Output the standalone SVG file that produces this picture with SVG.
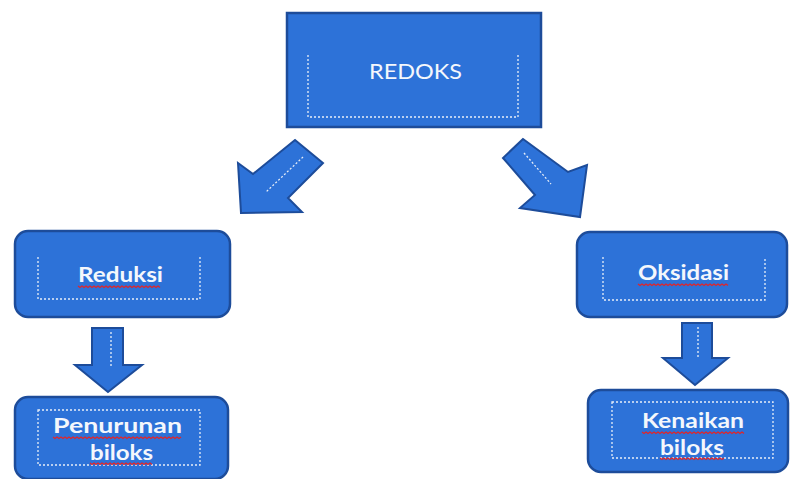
<svg xmlns="http://www.w3.org/2000/svg" width="790" height="479" viewBox="0 0 790 479">
<defs>
<style>
.box{fill:#2d72d8;stroke:#1d4c9a;stroke-width:2.5}
.arrow{fill:#2d72d8;stroke:#1d4c9a;stroke-width:2;stroke-linejoin:miter}
.dot{fill:none;stroke:#e8eef8;stroke-width:1.3;stroke-dasharray:2 2}
.lbl{font-family:Lato,"Open Sans","Liberation Sans",sans-serif;fill:#f4f7fc;text-anchor:start}
.b{font-weight:700}
.sq{fill:none;stroke:#e0262a;stroke-width:1.2}
</style>
</defs>
<rect width="790" height="479" fill="#ffffff"/>
<g id="connectors">
<polygon class="arrow" points="295,140 323,163 288,198 302,212 241,213 238,163 253,174"/>
<line class="dot" x1="303" y1="157" x2="266" y2="192"/>
<polygon class="arrow" points="523,139 503,158 535,195 520,208 580,217 587,165 568,172"/>
<line class="dot" x1="524" y1="153" x2="551" y2="184"/>
<polygon class="arrow" points="92,328 123,328 123,365 142,365 108,392 75,365 92,365"/>
<line class="dot" x1="111" y1="332" x2="111" y2="366"/>
<polygon class="arrow" points="682,323 712,323 712,358 728,358 695,385 663,358 682,358"/>
<line class="dot" x1="698" y1="327" x2="698" y2="358"/>
</g>
<g id="redoks">
<rect class="box" x="287" y="13" width="254" height="114"/>
<path class="dot" d="M308,55 V117 H518 V55"/>
<text class="lbl" x="369" y="79" font-size="22" textLength="93" lengthAdjust="spacingAndGlyphs">REDOKS</text>
</g>
<g id="reduksi">
<rect class="box" x="15" y="231" width="215" height="86" rx="13"/>
<path class="dot" d="M38,257 V299 H200 V257"/>
<text class="lbl b" x="78" y="282" font-size="20" textLength="85" lengthAdjust="spacingAndGlyphs">Reduksi</text>
<path class="sq" d="M78,286 l2,1.5 l2,-1.5 l2,1.5 l2,-1.5 l2,1.5 l2,-1.5 l2,1.5 l2,-1.5 l2,1.5 l2,-1.5 l2,1.5 l2,-1.5 l2,1.5 l2,-1.5 l2,1.5 l2,-1.5 l2,1.5 l2,-1.5 l2,1.5 l2,-1.5 l2,1.5 l2,-1.5 l2,1.5 l2,-1.5 l2,1.5 l2,-1.5 l2,1.5 l2,-1.5 l2,1.5 l2,-1.5 l2,1.5 l2,-1.5 l2,1.5 l2,-1.5 l2,1.5 l2,-1.5 l2,1.5 l2,-1.5 l2,1.5 l2,-1.5 l2,1.5"/>
</g>
<g id="penurunan">
<rect class="box" x="15" y="397" width="213" height="82" rx="13"/>
<rect class="dot" x="38" y="410" width="162" height="55"/>
<text class="lbl b" x="53" y="433" font-size="20" textLength="129" lengthAdjust="spacingAndGlyphs">Penurunan</text>
<text class="lbl b" x="90" y="460" font-size="20" textLength="63" lengthAdjust="spacingAndGlyphs">biloks</text>
<path class="sq" d="M53,437 l2,1.5 l2,-1.5 l2,1.5 l2,-1.5 l2,1.5 l2,-1.5 l2,1.5 l2,-1.5 l2,1.5 l2,-1.5 l2,1.5 l2,-1.5 l2,1.5 l2,-1.5 l2,1.5 l2,-1.5 l2,1.5 l2,-1.5 l2,1.5 l2,-1.5 l2,1.5 l2,-1.5 l2,1.5 l2,-1.5 l2,1.5 l2,-1.5 l2,1.5 l2,-1.5 l2,1.5 l2,-1.5 l2,1.5 l2,-1.5 l2,1.5 l2,-1.5 l2,1.5 l2,-1.5 l2,1.5 l2,-1.5 l2,1.5 l2,-1.5 l2,1.5 l2,-1.5 l2,1.5 l2,-1.5 l2,1.5 l2,-1.5 l2,1.5 l2,-1.5 l2,1.5 l2,-1.5 l2,1.5 l2,-1.5 l2,1.5 l2,-1.5 l2,1.5 l2,-1.5 l2,1.5 l2,-1.5 l2,1.5 l2,-1.5 l2,1.5 l2,-1.5 l2,1.5 l2,-1.5"/>
<path class="sq" d="M90,463 l2,1.5 l2,-1.5 l2,1.5 l2,-1.5 l2,1.5 l2,-1.5 l2,1.5 l2,-1.5 l2,1.5 l2,-1.5 l2,1.5 l2,-1.5 l2,1.5 l2,-1.5 l2,1.5 l2,-1.5 l2,1.5 l2,-1.5 l2,1.5 l2,-1.5 l2,1.5 l2,-1.5 l2,1.5 l2,-1.5 l2,1.5 l2,-1.5 l2,1.5 l2,-1.5 l2,1.5 l2,-1.5 l2,1.5"/>
</g>
<g id="oksidasi">
<rect class="box" x="577" y="232" width="210" height="85" rx="13"/>
<path class="dot" d="M603,257 V300 H765 V257"/>
<text class="lbl b" x="638" y="280" font-size="20" textLength="91" lengthAdjust="spacingAndGlyphs">Oksidasi</text>
<path class="sq" d="M638,284 l2,1.5 l2,-1.5 l2,1.5 l2,-1.5 l2,1.5 l2,-1.5 l2,1.5 l2,-1.5 l2,1.5 l2,-1.5 l2,1.5 l2,-1.5 l2,1.5 l2,-1.5 l2,1.5 l2,-1.5 l2,1.5 l2,-1.5 l2,1.5 l2,-1.5 l2,1.5 l2,-1.5 l2,1.5 l2,-1.5 l2,1.5 l2,-1.5 l2,1.5 l2,-1.5 l2,1.5 l2,-1.5 l2,1.5 l2,-1.5 l2,1.5 l2,-1.5 l2,1.5 l2,-1.5 l2,1.5 l2,-1.5 l2,1.5 l2,-1.5 l2,1.5 l2,-1.5 l2,1.5 l2,-1.5 l2,1.5"/>
</g>
<g id="kenaikan">
<rect class="box" x="588" y="390" width="200" height="82" rx="13"/>
<rect class="dot" x="612" y="402" width="161" height="56"/>
<text class="lbl b" x="642" y="428" font-size="20" textLength="102" lengthAdjust="spacingAndGlyphs">Kenaikan</text>
<text class="lbl b" x="660" y="455" font-size="20" textLength="64" lengthAdjust="spacingAndGlyphs">biloks</text>
<path class="sq" d="M642,432 l2,1.5 l2,-1.5 l2,1.5 l2,-1.5 l2,1.5 l2,-1.5 l2,1.5 l2,-1.5 l2,1.5 l2,-1.5 l2,1.5 l2,-1.5 l2,1.5 l2,-1.5 l2,1.5 l2,-1.5 l2,1.5 l2,-1.5 l2,1.5 l2,-1.5 l2,1.5 l2,-1.5 l2,1.5 l2,-1.5 l2,1.5 l2,-1.5 l2,1.5 l2,-1.5 l2,1.5 l2,-1.5 l2,1.5 l2,-1.5 l2,1.5 l2,-1.5 l2,1.5 l2,-1.5 l2,1.5 l2,-1.5 l2,1.5 l2,-1.5 l2,1.5 l2,-1.5 l2,1.5 l2,-1.5 l2,1.5 l2,-1.5 l2,1.5 l2,-1.5 l2,1.5 l2,-1.5 l2,1.5"/>
<path class="sq" d="M660,458 l2,1.5 l2,-1.5 l2,1.5 l2,-1.5 l2,1.5 l2,-1.5 l2,1.5 l2,-1.5 l2,1.5 l2,-1.5 l2,1.5 l2,-1.5 l2,1.5 l2,-1.5 l2,1.5 l2,-1.5 l2,1.5 l2,-1.5 l2,1.5 l2,-1.5 l2,1.5 l2,-1.5 l2,1.5 l2,-1.5 l2,1.5 l2,-1.5 l2,1.5 l2,-1.5 l2,1.5 l2,-1.5 l2,1.5 l2,-1.5"/>
</g>
</svg>
